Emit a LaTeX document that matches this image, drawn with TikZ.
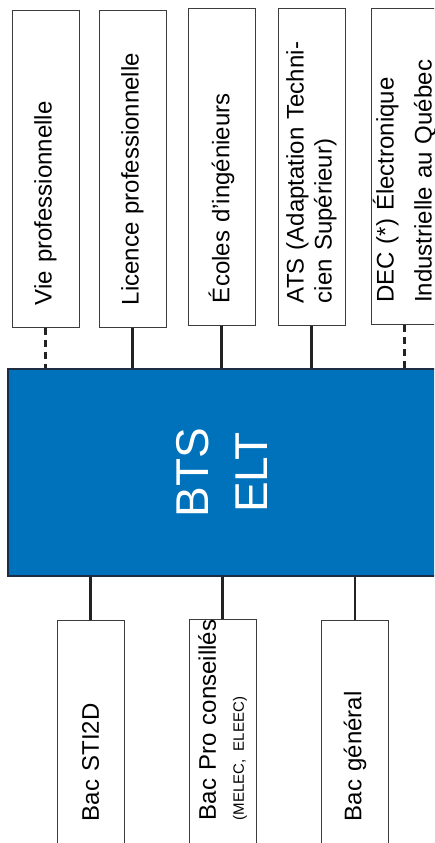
\documentclass[tikz,border=0pt]{standalone}
\usepackage{fontspec}
\setmainfont{Liberation Sans}
\definecolor{btsblue}{RGB}{0,114,187}
\definecolor{btsedge}{RGB}{30,45,70}
\definecolor{boxedge}{RGB}{60,60,60}
\definecolor{linkcol}{RGB}{34,34,34}
\begin{document}
\begin{tikzpicture}[x=1pt,y=-1pt,
  box/.style={draw=boxedge, line width=1pt, rotate=90, fill=white,
    minimum height=67pt, inner ysep=0pt, align=left,
    font=\fontsize{24}{28}\selectfont},
  topbox/.style={box, inner xsep=22pt, text width=272.5pt},
  botbox/.style={box, inner xsep=23pt, text width=178pt},
  link/.style={line width=2.3pt, draw=linkcol},
  dlink/.style={link, dash pattern=on 7pt off 5pt}]
\path[use as bounding box] (0,0) rectangle (434,843);
\clip (0,0) rectangle (434,843);

% central block
\node[rotate=90, draw=btsedge, line width=1.2pt, fill=btsblue, text=white,
  minimum width=207pt, minimum height=428pt, align=center,
  font=\fontsize{46}{59}\selectfont] (bts) at (222,472.5) {BTS\\ELT};

% upper boxes
\node[topbox] (vie) at (45.5,168.75) {Vie professionnelle};
\node[topbox] (lic) at (132.5,169) {Licence professionnelle};
\node[topbox] (ecol) at (221.5,166.75) {Écoles d’ingénieurs};
\node[topbox] (ats) at (311.5,166.75) {ATS (Adaptation Techni-\\cien Supérieur)};
\node[topbox] (dec) at (404.5,166.5) {\mbox{DEC (*) Électronique}\\[10pt]\mbox{Industrielle au Québec}};

% lower boxes
\node[botbox] (sti) at (90.5,732) {Bac STI2D};
\node[botbox] (pro) at (222.5,731) {\mbox{Bac Pro conseillés}\\{\fontsize{15}{15}\selectfont (MELEC, ELEEC)}};
\node[botbox] (gen) at (355,732) {Bac général};

% connectors
\draw[dlink] (vie.west) -- (vie.west |- bts.east);
\draw[link] (lic.west) -- (lic.west |- bts.east);
\draw[link] (ecol.west) -- (ecol.west |- bts.east);
\draw[link] (ats.west) -- (ats.west |- bts.east);
\draw[dlink] (dec.west) -- (dec.west |- bts.east);
\draw[link] (sti.east) -- (sti.east |- bts.west);
\draw[link] (pro.east) -- (pro.east |- bts.west);
\draw[link] (gen.east) -- (gen.east |- bts.west);
\end{tikzpicture}
\end{document}
